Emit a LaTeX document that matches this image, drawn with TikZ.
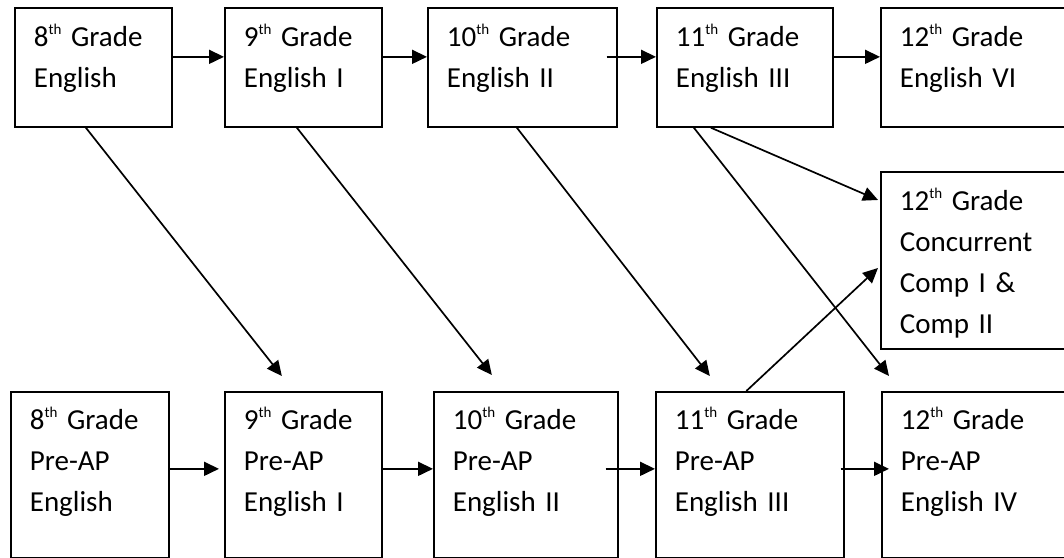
\documentclass[tikz,border=0pt]{standalone}
\usepackage{fontspec}
\setmainfont{Carlito}
\usepackage{tikz}
\usetikzlibrary{arrows.meta}
\newcommand{\sups}[1]{\raisebox{12bp}{\fontsize{15bp}{15bp}\selectfont #1}}

\begin{document}
\begin{tikzpicture}[x=1bp, y=-1bp,
  course/.style={draw, line width=1.7bp, anchor=north west, inner xsep=19bp, inner ysep=0pt,
    align=left, font=\fontsize{29bp}{41bp}\selectfont},
  toprow/.style={course, text height=39bp, text depth=80bp},
  botrow/.style={course, text height=38bp, text depth=128bp},
  arr/.style={line width=1.7bp, -{Triangle[length=15bp, width=14bp]}}]
\useasboundingbox (0,0) rectangle (1064,558);
\clip (0,0) rectangle (1064,558);
\node[toprow, text width=119bp] (t8) at (14,7) {8\sups{th} Grade\\English};
\node[toprow, text width=119bp] (t9) at (224,7) {9\sups{th} Grade\\English I};
\node[toprow, text width=151bp] (t10) at (427,7) {10\sups{th} Grade\\English II};
\node[toprow, text width=138bp] (t11) at (656,7) {11\sups{th} Grade\\English III};
\node[toprow, text width=162bp] (t12) at (880,7) {12\sups{th} Grade\\English VI};
\node[course, text width=162bp, text height=39bp, text depth=138bp] (conc) at (880,171)
  {12\sups{th} Grade\\Concurrent\\Comp I \&\\Comp II};
\node[botrow, text width=120bp] (b8) at (10,391) {8\sups{th} Grade\\Pre-AP\\English};
\node[botrow, text width=119bp] (b9) at (224,391) {9\sups{th} Grade\\Pre-AP\\English I};
\node[botrow, text width=146bp] (b10) at (433,391) {10\sups{th} Grade\\Pre-AP\\English II};
\node[botrow, text width=150bp] (b11) at (655,391) {11\sups{th} Grade\\Pre-AP\\English III};
\node[botrow, text width=162bp] (b12) at (881,391) {12\sups{th} Grade\\Pre-AP\\English IV};

\draw[arr] ([yshift=10.5bp]t8.east) -- ([yshift=10.5bp]t9.west);
\draw[arr] ([yshift=10.5bp]t9.east) -- ([yshift=10.5bp]t10.west);
\draw[arr] ([xshift=-11bp,yshift=10.5bp]t10.east) -- ([yshift=10.5bp]t11.west);
\draw[arr] ([yshift=10.5bp]t11.east) -- ([yshift=10.5bp]t12.west);

\draw[arr] ([yshift=6bp]b8.east) -- ([xshift=-5bp,yshift=6bp]b9.west);
\draw[arr] ([yshift=6bp]b9.east) -- ([yshift=6bp]b10.west);
\draw[arr] ([xshift=-13bp,yshift=6bp]b10.east) -- ([yshift=6bp]b11.west);
\draw[arr] ([xshift=-4bp,yshift=6bp]b11.east) -- ([xshift=8bp,yshift=6bp]b12.west);

\draw[arr] ([xshift=-7.5bp]t8.south) -- ([xshift=-21.5bp,yshift=15bp]b9.north);
\draw[arr] ([xshift=-6.5bp]t9.south) -- ([xshift=-34bp,yshift=16bp]b10.north);
\draw[arr] ([xshift=-5.5bp]t10.south) -- ([xshift=-40bp,yshift=15bp]b11.north);
\draw[arr] ([xshift=-51bp]t11.south) -- ([xshift=8bp,yshift=15bp]b12.north west);
\draw[arr] ([xshift=-34bp]t11.south) -- ([xshift=-2bp,yshift=-29bp]conc.north west);
\draw[arr] ([xshift=-3.5bp]b11.north) -- ([xshift=-2bp,yshift=-97bp]conc.north west);
\end{tikzpicture}
\end{document}
